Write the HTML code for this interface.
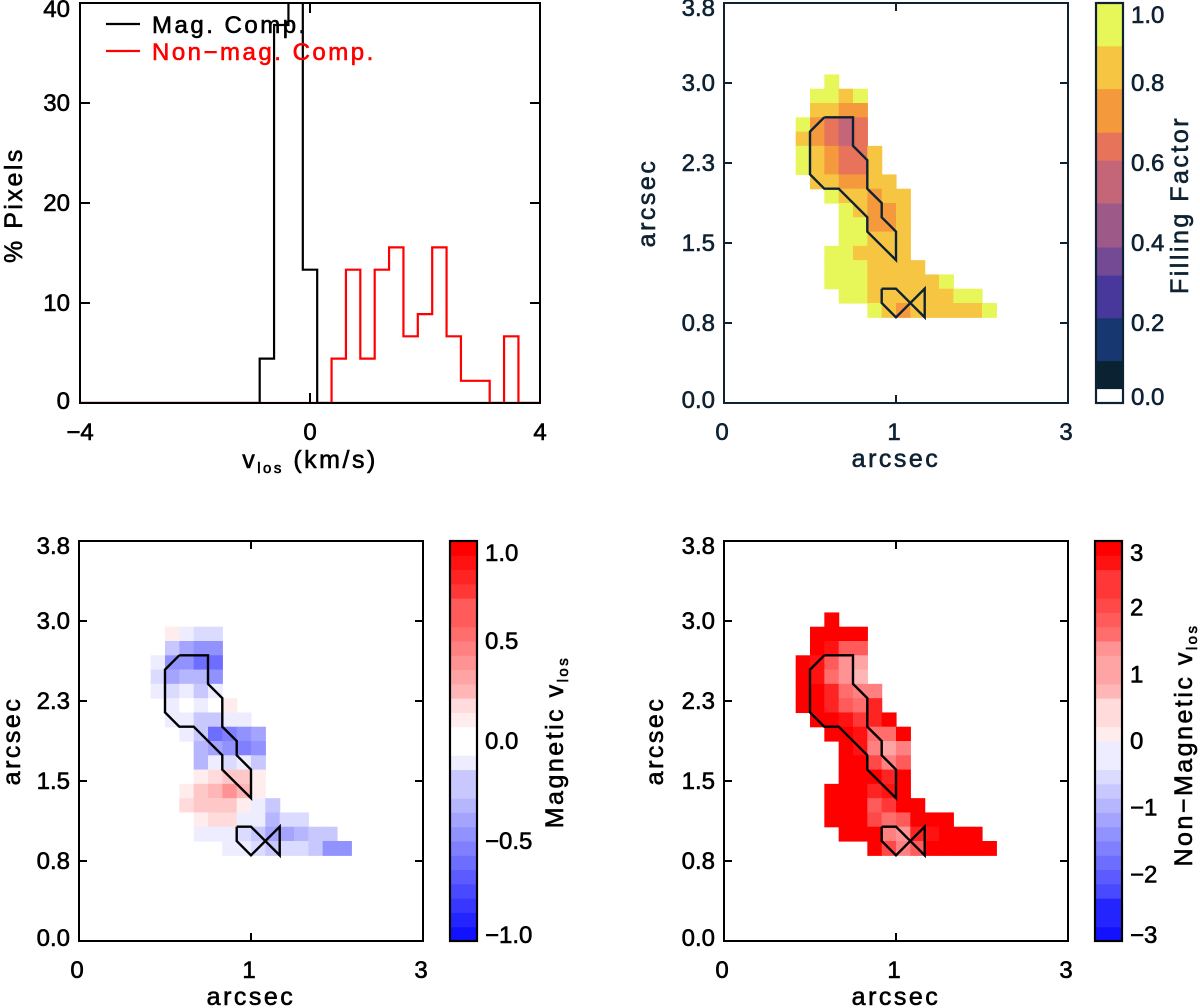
<!DOCTYPE html>
<html><head><meta charset="utf-8"><style>
body{margin:0;background:#fff}
svg{display:block;font-family:"Liberation Sans",sans-serif}
.ttl{letter-spacing:2.5px}
</style></head><body>
<svg id="fig" width="1200" height="1008" viewBox="0 0 1200 1008" xmlns="http://www.w3.org/2000/svg"></svg>
<script>
// ---------- Histogram data ----------
const binStart = -0.875, binWidth = 0.25;
const magBins0 = 0;
const magPct = [4.44, 37.8, 44.4, 13.33];
const nonBins0 = 5;
const nonPct = [4.44, 13.33, 4.44, 13.33, 15.56, 6.67, 8.89, 15.56, 6.67, 2.22, 2.22, 0, 6.67];
const histYTicks = [0, 10, 20, 30, 40];
const histXTicks = [-4, 0, 4];

// ---------- Map data: [row, startCol, values...] ----------
const ffRows = [
[5,7,.95],[6,6,.95,.95,.84,.95],[7,6,.84,.84,.73,.73],[8,5,.95,.73,.64,.55,.64],
[9,5,.84,.73,.64,.55,.64],[10,5,.95,.84,.73,.64,.64,.84],[11,5,.95,.84,.73,.64,.64,.84],
[12,6,.84,.84,.73,.73,.84,.84],[13,7,.95,.84,.84,.73,.84,.84],[14,8,.95,.84,.73,.73,.84],
[15,8,.95,.95,.73,.73,.84],[16,8,.95,.95,.84,.84,.84],[17,7,.95,.95,.84,.84,.84,.84],
[18,7,.95,.95,.95,.84,.84,.84,.84],[19,7,.95,.95,.95,.84,.84,.84,.84,.84,.95],
[20,8,.95,.95,.84,.84,.84,.84,.84,.84,.95,.95],[21,10,.95,.84,.73,.84,.84,.84,.84,.84,.95]];
const magRows = [
[6,6,.1,-.1,-.15,-.15],[7,6,-.2,-.35,-.45,-.4],[8,5,-.1,-.45,-.4,-.6,-.55],
[9,5,-.15,-.35,-.3,-.3,-.4],[10,5,-.1,-.15,-.05,-.25,-.05],[11,6,-.05,0,-.1,.03,.1],
[12,6,-.1,-.1,-.25,-.2,-.1,-.1],[13,7,-.1,-.25,-.55,-.5,-.4,-.35],[14,8,-.3,-.35,-.45,-.5,-.45],
[15,8,-.3,-.1,-.15,-.05,-.2],[16,8,.1,.15,.2,.2,.1],[17,7,.05,.2,.25,.4,.25,.1],
[18,7,.15,.2,.2,.2,.05,-.1,-.2],[19,7,.02,.1,.15,.15,-.05,-.1,-.3,-.15,-.15],
[20,8,-.1,-.1,-.1,-.15,-.25,-.35,-.35,-.3,-.25,-.2],[21,10,-.1,-.1,-.15,-.2,-.15,-.15,-.25,-.4,-.4]];
const nonRows = [
[5,7,3],[6,6,3,3,3,3],[7,6,3,2.7,2,2],[8,5,3,2.8,2,1.3,1],[9,5,3,2.8,1.8,1.2,.8],
[10,5,3,3,2.6,1.7,1.5,1.6],[11,5,3,3,2.6,2,1.8,2.5],[12,6,3,3,2.7,2.3,2.5,3],
[13,7,3,3,2.7,1.8,1.8,3],[14,8,3,2.8,1.4,1,1.4],[15,8,3,3,2.2,1.5,2],[16,8,3,3,3,2.6,2.9],
[17,7,3,3,3,2.5,2.7,3],[18,7,3,3,2.9,2,2.3,3,3],[19,7,3,3,3,2.1,1.8,1.9,3,3,3],
[20,8,3,3,3,1.5,1.2,2.5,2.8,3,3,3],[21,10,3,2.2,1.5,2,3,3,3,3,3]];
const contourA = [[7,8],[9,8],[9,10],[10,11],[10,13],[11,14],[11,15],[12,16],[12,18],[10,16],[10,15],[8,13],[7,13],[6,12],[6,9],[7,8]];
const contourB = [[11,20],[12,20],[14,22],[14,20],[12,22],[11,21],[11,20]];
const mapYTicks = [0, 0.75, 1.5, 2.25, 3.0, 3.75];
const mapYLabels = ["0.0","0.8","1.5","2.3","3.0","3.8"];
const mapXTicks = [0, 1.5, 3];
const mapXLabels = ["0","1","3"];
const ffBounds = [0,0.036,0.106,0.213,0.32,0.39,0.5,0.607,0.677,0.786,0.893,1.0];
const ffColors = ["#ffffff","#0b2232","#173771","#48389c","#744a94","#9d5a88","#c56678","#e6735a","#f49a3c","#f6c643","#e7f75a"];
const ffTicks = [0,0.2,0.4,0.6,0.8,1.0];
const magTicks = [-1,-0.5,0,0.5,1];
const nonTicks = [-3,-2,-1,0,1,2,3];

const svg = document.getElementById('fig');
const NS = 'http://www.w3.org/2000/svg';
function mk(tag, attrs, parent){ const e=document.createElementNS(NS,tag); for(const k in attrs) e.setAttribute(k,attrs[k]); (parent||svg).appendChild(e); return e; }
function txt(s,x,y,anchor,size,parent,fill){ const c=fill||'#000'; const t=mk('text',{x:x,y:y,'text-anchor':anchor,'font-size':size,fill:c,stroke:c,'stroke-width':0.6},parent); t.textContent=s; return t; }

// ---------- Histogram ----------
(function(){
  const g = mk('g',{});
  
  
  const L=80,R=540,T=3,B=403;
  const xs=v=>L+(v+4)/8*(R-L), ys=p=>B-p/40*(B-T);
  const cp=mk('clipPath',{id:'hclip'},g); mk('rect',{x:L,y:T,width:R-L,height:B-T},cp);
  function stepPath(b0,vals){
    let d='M'+L+','+B+' L'+xs(binStart+b0*binWidth)+','+B;
    vals.forEach((v,i)=>{const x0=xs(binStart+(b0+i)*binWidth),x1=xs(binStart+(b0+i+1)*binWidth);d+=' L'+x0+','+ys(v)+' L'+x1+','+ys(v);});
    d+=' L'+xs(binStart+(b0+vals.length)*binWidth)+','+B+' L'+R+','+B; return d;}
  const pb=mk('path',{d:stepPath(magBins0,magPct),fill:'none',stroke:'#000','stroke-width':2.2,'clip-path':'url(#hclip)'},g);
  
  
  const pr=mk('path',{d:stepPath(nonBins0,nonPct),fill:'none',stroke:'#f00','stroke-width':2.2,'clip-path':'url(#hclip)'},g);
  
  
  mk('rect',{x:L,y:T,width:R-L,height:B-T,fill:'none',stroke:'#000','stroke-width':2},g);
  histYTicks.forEach(v=>{ if(v>0&&v<40){mk('line',{x1:L,x2:L+10,y1:ys(v),y2:ys(v),stroke:'#000','stroke-width':2},g);mk('line',{x1:R-10,x2:R,y1:ys(v),y2:ys(v),stroke:'#000','stroke-width':2},g);}
    const t=txt(String(v),70,ys(v)+8+(v==40?6:0)-(v==0?2:0),'end',24,g);  });
  histXTicks.forEach(v=>{ if(v>-4&&v<4){mk('line',{x1:xs(v),x2:xs(v),y1:B,y2:B-10,stroke:'#000','stroke-width':2},g);mk('line',{x1:xs(v),x2:xs(v),y1:T,y2:T+10,stroke:'#000','stroke-width':2},g);}
    const t=txt(v<0?'\u2212'+Math.abs(v):String(v),xs(v),440,'middle',24,g);  });
  const yl=txt('% Pixels',0,0,'middle',25,g); yl.setAttribute('class','ttl'); yl.setAttribute('transform','translate(22,205) rotate(-90)');
   
  const xl=mk('text',{x:310,y:468,'text-anchor':'middle','font-size':25,'class':'ttl',stroke:'#000','stroke-width':0.6},g);
  xl.innerHTML='v<tspan font-size="15" dy="5">los</tspan><tspan dy="-5"> (km/s)</tspan>';
   
  const le1=mk('g',{},g);  
  mk('line',{x1:106,x2:140,y1:24,y2:24,stroke:'#000','stroke-width':2.2},le1); const a=txt('Mag. Comp.',152,33,'start',24,le1); a.setAttribute('class','ttl');
  const le2=mk('g',{},g);  
  mk('line',{x1:106,x2:140,y1:51,y2:51,stroke:'#f00','stroke-width':2.2},le2); const b=txt('Non\u2212mag. Comp.',152,60,'start',24,le2,'#f00'); b.setAttribute('class','ttl');
})();

// ---------- Map helper ----------
function divColor(v,max){ let t=Math.max(-1,Math.min(1,v/max)); t=Math.round(t*14)/14;
  if(t>=0){const c=Math.round(255*(1-t));return 'rgb(255,'+c+','+c+')';} const c=Math.round(255*(1+t)); return 'rgb('+c+','+c+',255)'; }
function ffColor(v){ for(let i=0;i<ffColors.length;i++){ if(v<ffBounds[i+1]) return ffColors[i]; } return ffColors[ffColors.length-1]; }

function drawMap(opt){
  const g=mk('g',{});
  
  
  const L=opt.L,T=opt.T,W=344,H=400,R=L+W,B=T+H,cw=W/24,ch=H/28,col=opt.axisColor;
  const cellG=mk('g',{},g);
  opt.rows.forEach(r=>{ for(let i=2;i<r.length;i++){ const c=r[1]+i-2;
    const rc=mk('rect',{x:(L+c*cw).toFixed(2),y:(T+r[0]*ch).toFixed(2),width:(cw+0.6).toFixed(2),height:(ch+0.6).toFixed(2),fill:opt.color(r[i])},cellG);
    
     } });
  [contourA,contourB].forEach(cn=>{ const p=mk('polyline',{points:cn.map(q=>(L+q[0]*cw).toFixed(1)+','+(T+q[1]*ch).toFixed(1)).join(' '),fill:'none',stroke:opt.contourColor,'stroke-width':2.4,'stroke-linejoin':'miter'},g);
      });
  mk('rect',{x:L,y:T,width:W,height:H,fill:'none',stroke:col,'stroke-width':2},g);
  const ys=v=>B-v/3.75*H, xs=v=>L+v/3*W;
  mapYTicks.forEach((v,i)=>{ if(i>0&&i<mapYTicks.length-1){mk('line',{x1:L,x2:L+8,y1:ys(v),y2:ys(v),stroke:col,'stroke-width':2},g);mk('line',{x1:R-8,x2:R,y1:ys(v),y2:ys(v),stroke:col,'stroke-width':2},g);}
    let yy=ys(v)+8; if(i==mapYTicks.length-1) yy+=5; if(i==0) yy-=3;
    const t=txt(mapYLabels[i],L-9,yy,'end',24,g,col);  });
  mapXTicks.forEach((v,i)=>{ if(i==1){mk('line',{x1:xs(v),x2:xs(v),y1:B,y2:B-8,stroke:col,'stroke-width':2},g);mk('line',{x1:xs(v),x2:xs(v),y1:T,y2:T+8,stroke:col,'stroke-width':2},g);}
    const t=txt(mapXLabels[i],xs(v)-2,B+37,'middle',24,g,col);  });
  const xl=txt('arcsec',L+W/2,B+64,'middle',25,g,col); xl.setAttribute('class','ttl');  
  const yl=txt('arcsec',0,0,'middle',25,g,col); yl.setAttribute('class','ttl'); yl.setAttribute('transform','translate('+opt.ylx+','+(T+H/2)+') rotate(-90)');
   
  // colorbar
  const cb=mk('g',{},g);  
  const CX=opt.cbx, CW=27, vy=v=>B-(v-opt.vmin)/(opt.vmax-opt.vmin)*H;
  if(opt.discrete){ for(let i=0;i<ffColors.length;i++){ mk('rect',{x:CX,y:vy(ffBounds[i+1]),width:CW,height:vy(ffBounds[i])-vy(ffBounds[i+1])+0.5,fill:ffColors[i]},cb);} }
  else { const n=28; for(let i=0;i<n;i++){ const v0=opt.vmin+(opt.vmax-opt.vmin)*i/n, v1=opt.vmin+(opt.vmax-opt.vmin)*(i+1)/n;
    mk('rect',{x:CX,y:vy(v1),width:CW,height:vy(v0)-vy(v1)+0.5,fill:divColor((v0+v1)/2,opt.vmax)},cb);} }
  mk('rect',{x:CX,y:T,width:CW,height:H,fill:'none',stroke:col,'stroke-width':2.2},cb);
  opt.ticks.forEach(v=>{ let yy=vy(v)+8; yy=Math.max(T+20,Math.min(B+2,yy));
    const s=(v<0?'\u2212':'')+(opt.fmt?Math.abs(v).toFixed(1):String(Math.abs(v)));
    const t=txt(s,CX+CW+8,yy,'start',24,cb,col);  });
  const ct=mk('text',{'text-anchor':'middle','font-size':25,'class':'ttl',fill:col,stroke:col,'stroke-width':0.6,transform:'translate('+opt.ctx+','+opt.cty+') rotate(-90)'},cb);
  ct.innerHTML=opt.title;
   
}

drawMap({name:'filling-factor-map',L:724,T:3,rows:ffRows,color:ffColor,axisColor:'#0f2233',contourColor:'#0f2233',ylx:655,
  cbx:1096,vmin:0,vmax:1,discrete:true,ticks:ffTicks,fmt:true,ctx:1188,cty:205,title:'Filling Factor'});
drawMap({name:'magnetic-vlos-map',L:79,T:541,rows:magRows,color:v=>divColor(v,1),axisColor:'#000',contourColor:'#000',ylx:20,
  cbx:450,vmin:-1,vmax:1,discrete:false,ticks:magTicks,fmt:true,ctx:563,cty:742,title:'Magnetic v<tspan font-size="15" dy="5">los</tspan>'});
drawMap({name:'nonmagnetic-vlos-map',L:724,T:541,rows:nonRows,color:v=>divColor(v,3),axisColor:'#000',contourColor:'#000',ylx:663,
  cbx:1095,vmin:-3,vmax:3,discrete:false,ticks:nonTicks,fmt:false,ctx:1192,cty:745,title:'Non\u2212Magnetic v<tspan font-size="15" dy="5">los</tspan>'});
</script>
</body></html>
